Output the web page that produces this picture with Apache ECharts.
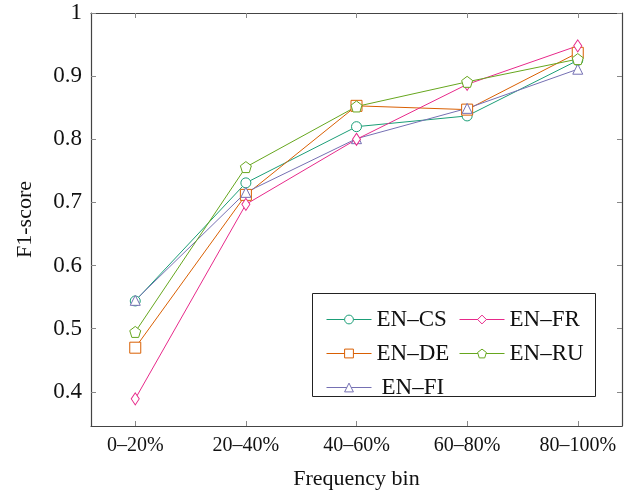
<!DOCTYPE html>
<html><head><meta charset="utf-8">
<script src="https://cdn.jsdelivr.net/npm/echarts@6/dist/echarts.min.js"></script>
<style>html,body{margin:0;padding:0;background:#fff}#c{width:632px;height:492px}</style>
</head><body><div id="c"></div>
<script>
const categories = ['0–20%', '20–40%', '40–60%', '60–80%', '80–100%'];
const yTicks = [0.4, 0.5, 0.6, 0.7, 0.8, 0.9, 1];
const enCS = [0.544, 0.731, 0.820, 0.837, 0.925];
const enDE = [0.470, 0.712, 0.853, 0.847, 0.937];
const enFI = [0.545, 0.716, 0.801, 0.849, 0.911];
const enFR = [0.389, 0.697, 0.800, 0.887, 0.948];
const enRU = [0.495, 0.756, 0.852, 0.891, 0.927];

const FONT = 'Liberation Serif';
const pentagon = 'path://M0,-1 L0.951,-0.309 L0.588,0.809 L-0.588,0.809 L-0.951,-0.309 Z';
const xIdx = categories.map((_, i) => i);
const COLORS = { 'EN–CS': '#1b9e77', 'EN–DE': '#d95f02', 'EN–FI': '#7570b3', 'EN–FR': '#e7298a', 'EN–RU': '#66a61e' };

function mk(name, data, symbol, size) {
  const color = COLORS[name];
  return {
    name, type: 'line', data: data.map((v, i) => [i, v]),
    symbol, symbolSize: size, showSymbol: true,
    lineStyle: { color, width: 1 },
    itemStyle: { color: '#fff', borderColor: color, borderWidth: 1 },
    emphasis: { disabled: true }, animation: false, z: 3
  };
}
function li(name, extra) {
  const color = COLORS[name];
  return Object.assign({
    name,
    lineStyle: { color, width: 1 },
    itemStyle: { color: '#fff', borderColor: color, borderWidth: 1 }
  }, extra || {});
}

const chart = echarts.init(document.getElementById('c'), null, { renderer: 'canvas' });
const axisLine = { show: true, onZero: false, lineStyle: { color: '#444', width: 1.2 } };
const tick = vals => ({ show: true, inside: true, length: 5, customValues: vals, lineStyle: { color: '#888' } });
const legendText = { fontSize: 23, color: '#111', fontFamily: FONT, lineHeight: 20 };
const legendBase = {
  orient: 'vertical', top: 303, itemGap: 11, itemWidth: 45, itemHeight: 11,
  textStyle: legendText
};
chart.setOption({
  animation: false,
  textStyle: { fontFamily: FONT },
  grid: { left: 91, right: 10, top: 13, bottom: 66, containLabel: false, outerBoundsMode: 'none' },
  xAxis: [{
    type: 'value', min: -0.4, max: 4.4,
    axisLine, splitLine: { show: false }, axisTick: tick(xIdx),
    axisLabel: { customValues: xIdx, formatter: v => categories[Math.round(v)], fontSize: 20, color: '#111', fontFamily: FONT, margin: 10 },
    name: 'Frequency bin', nameLocation: 'middle', nameGap: 42,
    nameTextStyle: { fontSize: 22, color: '#111', fontFamily: FONT }
  }, {
    type: 'value', min: -0.4, max: 4.4, position: 'top',
    axisLine, splitLine: { show: false }, axisTick: tick(xIdx),
    axisLabel: { show: false }
  }],
  yAxis: [{
    type: 'value', min: 0.346, max: 1,
    axisLine, splitLine: { show: false }, axisTick: tick(yTicks),
    axisLabel: { customValues: yTicks, formatter: v => String(Math.round(v * 10) / 10), fontSize: 23, color: '#111', fontFamily: FONT, margin: 9 },
    name: 'F1-score', nameLocation: 'middle', nameGap: 55, nameRotate: 90,
    nameTextStyle: { fontSize: 22, color: '#111', fontFamily: FONT }
  }, {
    type: 'value', min: 0.346, max: 1, position: 'right',
    axisLine, splitLine: { show: false }, axisTick: tick(yTicks),
    axisLabel: { show: false }
  }],
  legend: [Object.assign({}, legendBase, {
    left: 321,
    data: [li('EN–CS'), li('EN–DE'), li('EN–FI', { textStyle: { padding: [0, 0, 0, 5] } })]
  }), Object.assign({}, legendBase, {
    left: 454,
    data: [li('EN–FR'), li('EN–RU')]
  })],
  graphic: [{
    type: 'rect', shape: { x: 312.5, y: 293.5, width: 283, height: 103 },
    style: { fill: 'none', stroke: '#222', lineWidth: 1 }, z: 1, silent: true
  }],
  series: [
    mk('EN–CS', enCS, 'circle', 10),
    mk('EN–DE', enDE, 'rect', 11),
    mk('EN–FI', enFI, 'triangle', 10),
    mk('EN–FR', enFR, 'diamond', [8, 12]),
    mk('EN–RU', enRU, pentagon, 11)
  ]
});
</script></body></html>
